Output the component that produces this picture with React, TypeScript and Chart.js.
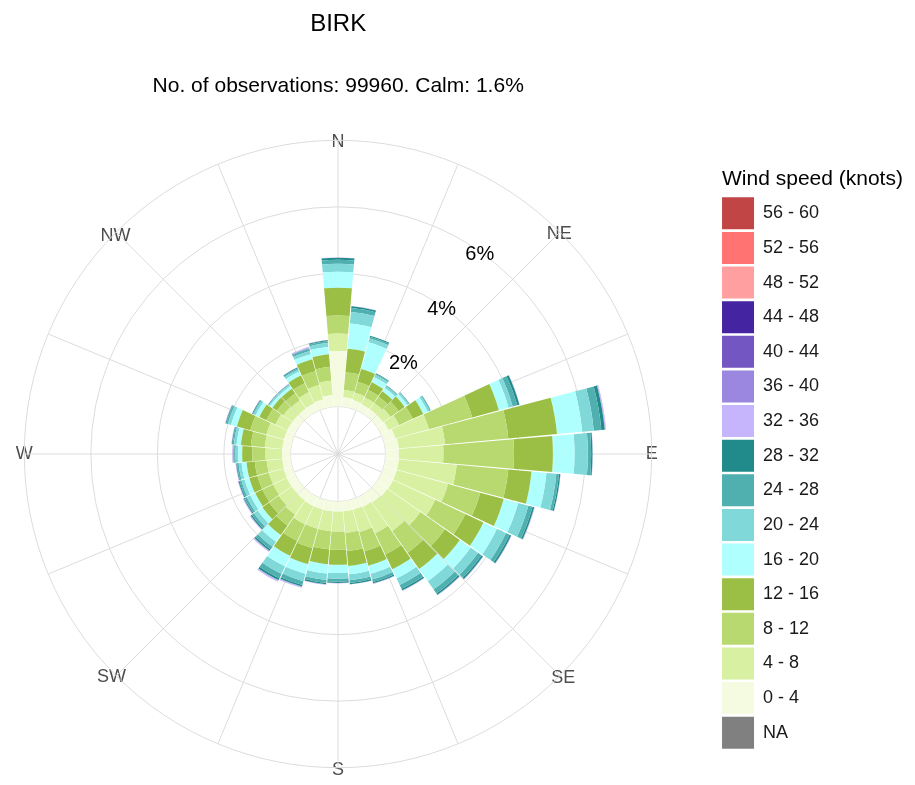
import React, { useEffect, useRef } from 'react';
import { Chart, registerables } from 'chart.js';

Chart.register(...registerables);

// ---------------- data ----------------
const directions = [0, 10, 20, 30, 40, 50, 60, 70, 80, 90, 100, 110, 120, 130, 140, 150, 160, 170, 180, 190, 200, 210, 220, 230, 240, 250, 260, 270, 280, 290, 300, 310, 320, 330, 340, 350];
const compassNames = ['N', 'NE', 'E', 'SE', 'S', 'SW', 'W', 'NW'];
const speedBins = ['0 - 4', '4 - 8', '8 - 12', '12 - 16', '16 - 20', '20 - 24', '24 - 28', '28 - 32', '32 - 36', '36 - 40', '40 - 44', '44 - 48', '48 - 52', '52 - 56', '56 - 60'];
const speedColors = ['#f4fbe1', '#d8f0a1', '#b7d96f', '#9bbf44', '#b0ffff', '#80d8d8', '#50b0b0', '#218b8b', '#c6b4fd', '#9b87e0', '#7356c2', '#4424a0', '#ff9f9f', '#ff7373', '#c24545'];
const naLabel = 'NA';
const naColor = '#808080';
const titleText = 'BIRK';
const subtitleText = 'No. of observations: 99960. Calm: 1.6%';
const legendTitle = 'Wind speed (knots)';
const pctTickValues = [2, 4, 6];

// frequency (%) per direction for each wind-speed bin
const b0_4 = [1.66, 0.28, 0.25, 0.22, 0.22, 0.22, 0.25, 0.35, 0.40, 0.40, 0.40, 0.40, 0.40, 0.38, 0.35, 0.32, 0.30, 0.30, 0.30, 0.30, 0.30, 0.30, 0.28, 0.27, 0.27, 0.26, 0.25, 0.25, 0.25, 0.25, 0.25, 0.24, 0.24, 0.25, 0.27, 0.35];
const b4_8 = [0.53, 0.22, 0.23, 0.23, 0.23, 0.28, 0.35, 1.05, 1.40, 1.34, 1.75, 1.60, 1.40, 1.22, 1.05, 0.88, 0.70, 0.65, 0.60, 0.60, 0.60, 0.60, 0.52, 0.48, 0.45, 0.46, 0.47, 0.50, 0.53, 0.55, 0.40, 0.34, 0.31, 0.37, 0.45, 0.43];
const b8_12 = [0.54, 0.54, 0.34, 0.25, 0.23, 0.30, 0.45, 1.35, 1.91, 2.12, 1.56, 1.00, 1.00, 0.90, 0.80, 0.70, 0.60, 0.55, 0.55, 0.55, 0.60, 0.55, 0.40, 0.35, 0.36, 0.36, 0.36, 0.40, 0.42, 0.50, 0.30, 0.24, 0.25, 0.30, 0.43, 0.42];
const b12_16 = [0.84, 0.71, 0.40, 0.25, 0.20, 0.22, 0.35, 0.83, 1.47, 1.17, 0.70, 0.73, 0.60, 0.55, 0.60, 0.50, 0.45, 0.45, 0.45, 0.45, 0.50, 0.50, 0.35, 0.25, 0.24, 0.25, 0.25, 0.30, 0.30, 0.42, 0.23, 0.16, 0.17, 0.26, 0.37, 0.38];
const b16_20 = [0.48, 0.76, 0.83, 0.17, 0.12, 0.10, 0.15, 0.30, 0.76, 0.65, 0.45, 0.45, 0.45, 0.40, 0.45, 0.30, 0.25, 0.25, 0.25, 0.28, 0.30, 0.35, 0.25, 0.17, 0.16, 0.15, 0.15, 0.12, 0.13, 0.18, 0.12, 0.09, 0.09, 0.13, 0.16, 0.22];
const b20_24 = [0.24, 0.35, 0.12, 0.08, 0.06, 0.05, 0.06, 0.13, 0.35, 0.40, 0.30, 0.32, 0.30, 0.27, 0.30, 0.22, 0.18, 0.18, 0.17, 0.19, 0.23, 0.25, 0.18, 0.14, 0.12, 0.10, 0.09, 0.08, 0.08, 0.10, 0.07, 0.04, 0.05, 0.07, 0.10, 0.12];
const b24_28 = [0.12, 0.12, 0.05, 0.03, 0.03, 0.02, 0.03, 0.14, 0.23, 0.10, 0.08, 0.13, 0.12, 0.13, 0.15, 0.13, 0.08, 0.08, 0.09, 0.09, 0.12, 0.15, 0.10, 0.08, 0.07, 0.06, 0.05, 0.04, 0.04, 0.05, 0.03, 0.02, 0.02, 0.04, 0.06, 0.05];
const b28_32 = [0.06, 0.05, 0.03, 0.02, 0.01, 0.01, 0.01, 0.07, 0.10, 0.04, 0.04, 0.05, 0.05, 0.05, 0.05, 0.05, 0.04, 0.04, 0.04, 0.04, 0.05, 0.06, 0.05, 0.04, 0.03, 0.03, 0.02, 0.02, 0.02, 0.02, 0.02, 0.01, 0.01, 0.02, 0.02, 0.03];
const b32_36 = [0.01, 0.01, 0, 0, 0, 0, 0, 0.01, 0.03, 0.01, 0.01, 0.02, 0.02, 0.02, 0.02, 0.02, 0.02, 0.01, 0.01, 0.02, 0.03, 0.04, 0.03, 0.03, 0.03, 0.02, 0.02, 0.03, 0.02, 0.02, 0.01, 0.01, 0.01, 0.01, 0.03, 0.01];
const b36_40 = [0, 0, 0, 0, 0, 0, 0, 0, 0.01, 0, 0, 0, 0, 0, 0, 0, 0, 0, 0, 0, 0.01, 0.01, 0.01, 0, 0, 0, 0, 0.01, 0, 0, 0, 0, 0, 0, 0.01, 0];

// ---------------- layout / style constants ----------------
const CANVAS_W = 958;
const CANVAS_H = 785;
const CANVAS_LEFT = -43;
const FONT = '"Liberation Sans", Arial, Helvetica, sans-serif';
const GRID_COLOR = '#dcdcdc';
const TEXT_COLOR = '#1a1a1a';
const R_MIN = -1.43;
const R_MAX = 8;
const R_STEP = 2;
const START_ANGLE = -5; // bins centred on their direction
const SLOT_DEG = 2.5;
const PL_SIZE = 18;
const PCT_LABEL_ANGLE = 35;
const PCT_LABEL_DY = 3;
const GAP_DEG = 0.2;
const LEGEND_TITLE_SIZE = 21;
const LEGEND_TITLE_PAD_TOP = 169;
const LEGEND_ITEM_PAD = 2.63;

// point-label slots every 2.5 degrees (compass names every 45 degrees)
const slotCount = 360 / SLOT_DEG;
const compassSlots: string[] = [];
for (let k = 0; k < slotCount; k++) {
  const deg = START_ANGLE + k * SLOT_DEG;
  const norm = ((deg % 360) + 360) % 360;
  compassSlots.push(norm % 45 === 0 ? compassNames[norm / 45] : '');
}

const slotDeg = (k: number) => (((START_ANGLE + k * SLOT_DEG) % 360) + 360) % 360;

// stack the bins inside each direction
const roseStackPlugin = {
  id: 'roseStack',
  afterDatasetsUpdate(chart: any) {
    const scale = chart.scales.r;
    if (!scale) return;
    const gap = (GAP_DEG * Math.PI) / 180;
    const base = scale.getDistanceFromCenterForValue(0);
    const prev: number[] = [];
    chart.data.datasets.forEach((_ds: any, di: number) => {
      const meta = chart.getDatasetMeta(di);
      meta.data.forEach((arc: any, i: number) => {
        const inner = prev[i] === undefined ? base : prev[i];
        arc.innerRadius = inner;
        arc.startAngle += gap;
        arc.endAngle -= gap;
        prev[i] = Math.max(arc.outerRadius, inner);
      });
    });
  },
};

const pctLabelPlugin = {
  id: 'pctLabels',
  afterDatasetsDraw(chart: any) {
    const scale = chart.scales.r;
    if (!scale) return;
    const ctx = chart.ctx;
    const a = (PCT_LABEL_ANGLE * Math.PI) / 180;
    ctx.save();
    ctx.font = `20px ${FONT}`;
    ctx.fillStyle = '#000000';
    ctx.textAlign = 'center';
    ctx.textBaseline = 'middle';
    scale.ticks.forEach((t: any) => {
      if (!pctTickValues.includes(t.value)) return;
      const r = scale.getDistanceFromCenterForValue(t.value);
      ctx.fillText(`${t.value}%`, scale.xCenter + r * Math.sin(a), scale.yCenter - r * Math.cos(a) + PCT_LABEL_DY);
    });
    ctx.restore();
  },
};

// legend title drawn unclipped (the legend box itself is narrower than the title)
const legendTitlePlugin = {
  id: 'legendTitleFull',
  afterDraw(chart: any) {
    const lg = chart.legend;
    if (!lg) return;
    const ctx = chart.ctx;
    ctx.save();
    ctx.font = `${LEGEND_TITLE_SIZE}px ${FONT}`;
    ctx.fillStyle = '#000000';
    ctx.textAlign = 'left';
    ctx.textBaseline = 'middle';
    ctx.fillText(legendTitle, lg.left + LEGEND_ITEM_PAD, lg.top + LEGEND_TITLE_PAD_TOP + LEGEND_TITLE_SIZE / 2);
    ctx.restore();
  },
};

export default function App() {
  const ref = useRef<HTMLCanvasElement | null>(null);

  useEffect(() => {
    if (!ref.current) return;
    const series = [b0_4, b4_8, b8_12, b12_16, b16_20, b20_24, b24_28, b28_32, b32_36, b36_40];
    let running = directions.map(() => 0);
    const datasets = series.map((vals, k) => {
      running = running.map((r, i) => r + vals[i]);
      return {
        label: speedBins[k],
        data: running.slice(),
        backgroundColor: speedColors[k],
        borderWidth: 0,
      };
    });

    const legendItems = () => {
      const items: any[] = speedBins.map((b, i) => ({
        text: b,
        fillStyle: speedColors[i],
        strokeStyle: speedColors[i],
        fontColor: TEXT_COLOR,
        lineWidth: 0,
        hidden: false,
        index: i,
      }));
      items.reverse();
      items.push({ text: naLabel, fillStyle: naColor, strokeStyle: naColor, fontColor: TEXT_COLOR, lineWidth: 0, hidden: false, index: 99 });
      return items;
    };

    const chart = new Chart(ref.current, {
      type: 'polarArea',
      data: {
        labels: directions.map((d) => `${d}°`),
        datasets: datasets as any,
      },
      plugins: [roseStackPlugin, pctLabelPlugin, legendTitlePlugin],
      options: {
        responsive: false,
        animation: false,
        events: [],
        layout: { padding: { top: 0, left: 0, right: 95.6, bottom: 2 } },
        scales: {
          r: {
            type: 'radialLinear',
            min: R_MIN,
            max: R_MAX,
            startAngle: START_ANGLE,
            labels: compassSlots,
            ticks: { display: false, stepSize: R_STEP, showLabelBackdrop: false },
            grid: {
              circular: true,
              color: (c: any) => (c.tick && c.tick.value < 0 ? 'rgba(0,0,0,0)' : GRID_COLOR),
              lineWidth: 1,
            },
            angleLines: {
              display: true,
              color: (c: any) => (c.index % 9 === 2 ? GRID_COLOR : 'rgba(0,0,0,0)'),
              lineWidth: (c: any) => (c.index % 9 === 2 ? 1 : 0),
            },
            pointLabels: {
              display: true,
              color: '#4d4d4d',
              font: { family: FONT, size: PL_SIZE },
              callback: (label: string) => label,
              padding: (c: any) => {
                const label = c.label;
                if (!label) return -200;
                const deg = slotDeg(c.index);
                const h = PL_SIZE * 1.2;
                const cx = c.chart.ctx;
                cx.save();
                cx.font = `${PL_SIZE}px ${FONT}`;
                const w = cx.measureText(label).width;
                cx.restore();
                if (deg === 0) return -h / 2 - 1.5;
                if (deg === 180) return -h / 2 + 2.5;
                if (deg % 90 === 0) return -w / 2;
                const base = (-0.7071 * (w + h)) / 2;
                return deg > 90 && deg < 270 ? base + 4 : base - 2;
              },
            },
          } as any,
        },
        plugins: {
          title: {
            display: true,
            text: titleText,
            fullSize: false,
            color: '#000000',
            font: { family: FONT, size: 24, weight: 'normal' },
            padding: { top: 9.6, bottom: 0 },
          },
          subtitle: {
            display: true,
            text: subtitleText,
            fullSize: false,
            color: '#000000',
            font: { family: FONT, size: 21, weight: 'normal' },
            padding: { top: 35, bottom: 31.4 },
          },
          legend: {
            display: true,
            position: 'right',
            align: 'start',
            maxWidth: 100,
            onClick: () => {},
            title: {
              display: true,
              text: legendTitle,
              position: 'start',
              color: 'rgba(0,0,0,0)',
              font: { family: FONT, size: LEGEND_TITLE_SIZE },
              padding: { top: LEGEND_TITLE_PAD_TOP, bottom: 197.3 - LEGEND_ITEM_PAD - LEGEND_TITLE_PAD_TOP - LEGEND_TITLE_SIZE * 1.2 },
            },
            labels: {
              boxWidth: 32,
              boxHeight: 32,
              padding: LEGEND_ITEM_PAD,
              color: TEXT_COLOR,
              font: { family: FONT, size: 18 },
              generateLabels: legendItems,
            },
          } as any,
          tooltip: { enabled: false },
        },
      } as any,
    });
    return () => chart.destroy();
  }, []);

  return (
    <canvas
      ref={ref}
      width={CANVAS_W}
      height={CANVAS_H}
      style={{ position: 'absolute', left: CANVAS_LEFT, top: 0, width: CANVAS_W, height: CANVAS_H }}
    />
  );
}
